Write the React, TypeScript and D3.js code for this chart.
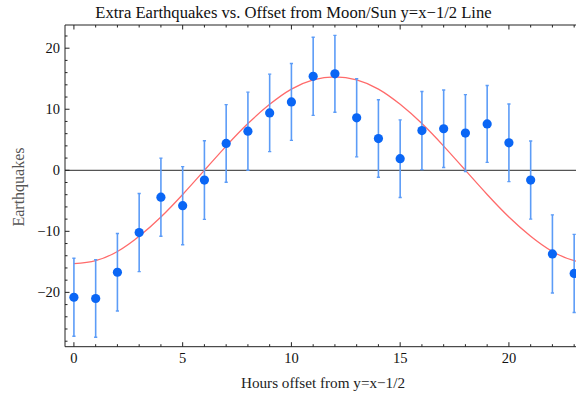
import React from "react";
import * as d3 from "d3";

// Hour offset from the y = x - 1/2 line
const hours = d3.range(0, 24);
// Extra earthquakes per hour bin
const quakes = [
  -20.8, -21.0, -16.7, -10.2, -4.4, -5.8, -1.6, 4.4, 6.4, 9.4, 11.2, 15.4,
  15.8, 8.6, 5.2, 1.9, 6.5, 6.8, 6.1, 7.6, 4.5, -1.6, -13.7, -16.9,
];
// One-sigma error for each bin
const errors = [
  6.4, 6.35, 6.35, 6.4, 6.4, 6.4, 6.45, 6.35, 6.4, 6.35, 6.3, 6.4, 6.3, 6.4,
  6.35, 6.35, 6.4, 6.35, 6.3, 6.3, 6.35, 6.4, 6.4, 6.4,
];
// Fitted sinusoid evaluated at each hour
const fitValues = [
  -15.3, -14.8, -13.3, -10.8, -7.65, -3.96, 0, 3.96, 7.65, 10.8, 13.3, 14.8,
  15.3, 14.8, 13.3, 10.8, 7.65, 3.96, 0, -3.96, -7.65, -10.8, -13.3, -14.8,
  -15.3,
];
const fitHours = d3.range(0, 25);

const xTicks = [0, 5, 10, 15, 20];
const yTicks = [-20, -10, 0, 10, 20];

const W = 576;
const H = 394;
const left = 65;
const top = 25;
const bottom = 346.7;
const xDomain: [number, number] = [-0.41, 23.6];
const pxPerHour = 21.75;
const right = left + (xDomain[1] - xDomain[0]) * pxPerHour;

const font = "'Liberation Serif', 'Times New Roman', serif";

export default function App() {
  const x = d3.scaleLinear().domain(xDomain).range([left, right]);
  const y = d3.scaleLinear().domain([-28.9, 23.8]).range([bottom, top]);

  const fitLine = d3
    .line<number>()
    .x((_, i) => x(fitHours[i]))
    .y((d) => y(d))
    .curve(d3.curveNatural);

  const xMinor = d3.range(0, 24);
  const yMinor = d3.range(-28, 24, 2);

  return (
    <svg
      width={W}
      height={H}
      style={{ position: "absolute", left: 0, top: 0, background: "#fff" }}
      fontFamily={font}
    >
      <defs>
        <clipPath id="plotArea">
          <rect x={left} y={top} width={right - left} height={bottom - top} />
        </clipPath>
      </defs>

      <text x={293.5} y={18} textAnchor="middle" fontSize={16.6} fill="#111">
        Extra Earthquakes vs. Offset from Moon/Sun y=x−1/2 Line
      </text>

      <g clipPath="url(#plotArea)">
        {/* zero reference line */}
        <line
          x1={left}
          x2={right}
          y1={y(0)}
          y2={y(0)}
          stroke="#555"
          strokeWidth={1.2}
        />
        <path
          d={fitLine(fitValues) ?? ""}
          fill="none"
          stroke="#ff6b6b"
          strokeWidth={1.3}
        />
        {hours.map((h, i) => {
          const cx = x(h);
          const y1 = y(quakes[i] + errors[i]);
          const y2 = y(quakes[i] - errors[i]);
          return (
            <g key={h}>
              <line
                x1={cx}
                x2={cx}
                y1={y1}
                y2={y2}
                stroke="#5c9cf7"
                strokeWidth={1.6}
              />
              <line x1={cx - 1.6} x2={cx + 1.6} y1={y1} y2={y1} stroke="#5c9cf7" strokeWidth={1.4} />
              <line x1={cx - 1.6} x2={cx + 1.6} y1={y2} y2={y2} stroke="#5c9cf7" strokeWidth={1.4} />
              <circle cx={cx} cy={y(quakes[i])} r={4.6} fill="#0a66f5" />
            </g>
          );
        })}
      </g>

      {/* frame */}
      <line x1={left} x2={left} y1={top} y2={bottom} stroke="#222" strokeWidth={1} />
      <line x1={left} x2={right} y1={bottom} y2={bottom} stroke="#222" strokeWidth={1} />
      <line x1={left} x2={right} y1={top} y2={top} stroke="#222" strokeWidth={1} />

      {/* x ticks, bottom and top */}
      {xMinor.map((t) => {
        const len = t % 5 === 0 ? 4.5 : 2.5;
        return (
          <g key={"xt" + t}>
            <line x1={x(t)} x2={x(t)} y1={bottom} y2={bottom - len} stroke="#222" />
            <line x1={x(t)} x2={x(t)} y1={top} y2={top + len} stroke="#222" />
          </g>
        );
      })}
      {xTicks.map((t) => (
        <text key={"xl" + t} x={x(t)} y={363} textAnchor="middle" fontSize={14.5} fill="#111">
          {t}
        </text>
      ))}

      {/* y ticks */}
      {yMinor.map((t) => {
        const len = t % 10 === 0 ? 4.5 : 2.5;
        return (
          <line key={"yt" + t} x1={left} x2={left + len} y1={y(t)} y2={y(t)} stroke="#222" />
        );
      })}
      {yTicks.map((t) => (
        <text
          key={"yl" + t}
          x={60}
          y={y(t)}
          dy="0.34em"
          textAnchor="end"
          fontSize={14.5}
          fill="#111"
        >
          {t < 0 ? "−" + Math.abs(t) : t}
        </text>
      ))}

      <text x={323} y={388} textAnchor="middle" fontSize={15.2} fill="#222">
        Hours offset from y=x−1/2
      </text>
      <text
        transform={`translate(24, 187) rotate(-90)`}
        textAnchor="middle"
        fontSize={16}
        fill="#555"
      >
        Earthquakes
      </text>
    </svg>
  );
}
